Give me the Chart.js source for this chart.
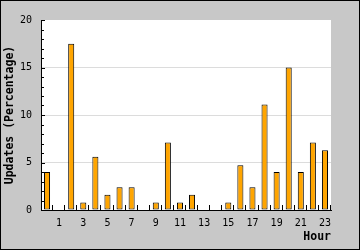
<!DOCTYPE html>
<html>
<head>
<meta charset="utf-8">
<script src="https://cdn.jsdelivr.net/npm/chart.js@4"></script>
<style>
  body { margin: 0; background: #c8c8c8; }
  canvas { display: block; }
</style>
</head>
<body>
<canvas id="myChart" width="360" height="250"></canvas>
<script>
// hours of the day and share of updates in each
const hours = ['0','1','2','3','4','5','6','7','8','9','10','11','12','13','14','15','16','17','18','19','20','21','22','23'];
const updates = [4, 0, 17.5, 0.8, 5.6, 1.6, 2.4, 2.4, 0, 0.8, 7.1, 0.8, 1.6, 0, 0, 0.8, 4.7, 2.4, 11.1, 4, 15, 4, 7.1, 6.3];
const yTicks = [0, 5, 10, 15, 20];

const mono = 'DejaVu Sans Mono';

// gray frame, white plot area, little tick marks like the original
const frame = {
  id: 'frame',
  beforeDraw(chart) {
    let ctx = chart.ctx;
    let a = chart.chartArea;
    ctx.save();
    ctx.fillStyle = '#c8c8c8';
    ctx.fillRect(0, 0, chart.width, chart.height);
    ctx.fillStyle = '#ffffff';
    ctx.fillRect(a.left, a.top, a.right - a.left, a.bottom - a.top);
    ctx.strokeStyle = '#000';
    ctx.lineWidth = 1;
    ctx.strokeRect(0.5, 0.5, chart.width - 1, chart.height - 1);
    ctx.restore();
  },
  afterDatasetsDraw(chart) {
    let ctx = chart.ctx;
    let x = chart.scales.x;
    let y = chart.scales.y;
    ctx.save();
    ctx.strokeStyle = '#000';
    ctx.lineWidth = 1;
    ctx.beginPath();
    // minor ticks on the y axis
    for (let v = 0; v <= 20; v++) {
      let py = Math.round(y.getPixelForValue(v)) + 0.5;
      let len = (v % 5 === 0) ? 4 : 3;
      ctx.moveTo(x.left, py);
      ctx.lineTo(x.left + len, py);
    }
    // ticks between the hours
    for (let i = 1; i <= hours.length; i++) {
      let px;
      if (i === hours.length) px = x.right;
      else px = (x.getPixelForValue(i - 1) + x.getPixelForValue(i)) / 2;
      px = Math.round(px) - 0.5;
      ctx.moveTo(px, y.bottom);
      ctx.lineTo(px, y.bottom - 5);
    }
    ctx.stroke();
    ctx.restore();
  }
};

const ctx = document.getElementById('myChart');

let chart = new Chart(ctx, {
  type: 'bar',
  data: {
    labels: hours,
    datasets: [{
      label: 'Updates',
      data: updates,
      backgroundColor: '#ffa500',
      borderColor: '#000000',
      borderWidth: 1,
      borderSkipped: false,
      barPercentage: 0.5,
      categoryPercentage: 1
    }]
  },
  options: {
    responsive: false,
    devicePixelRatio: 1,
    animation: false,
    layout: { padding: { left: 0, top: 20, right: 29, bottom: 0 } },
    plugins: {
      legend: { display: false },
      tooltip: { enabled: false }
    },
    scales: {
      x: {
        grid: { display: false, drawTicks: false },
        border: { display: true, color: '#000', width: 1 },
        ticks: {
          autoSkip: false,
          maxRotation: 0,
          padding: 7,
          color: '#000',
          font: { family: mono, size: 10 },
          callback: function(val, index) {
            return index % 2 === 1 ? hours[index] : '';
          }
        },
        title: {
          display: true,
          text: 'Hour',
          align: 'end',
          color: '#000',
          font: { family: mono, size: 11.5, weight: 'bold' },
          padding: { top: 0, bottom: 6 }
        },
        afterFit: function(scale) { scale.height = 40; }
      },
      y: {
        min: 0,
        max: 20,
        grid: {
          drawTicks: false,
          color: function(c) {
            let v = c.tick.value;
            return (v > 0 && v < 20) ? '#dcdcdc' : 'rgba(0,0,0,0)';
          }
        },
        border: { display: true, color: '#000', width: 1 },
        afterBuildTicks: function(scale) {
          scale.ticks = yTicks.map(v => ({ value: v }));
        },
        ticks: {
          padding: 9,
          color: '#000',
          font: { family: mono, size: 10 }
        },
        title: {
          display: true,
          text: 'Updates (Percentage)',
          color: '#000',
          font: { family: mono, size: 11.5, weight: 'bold' },
          padding: { top: 3, bottom: 0 }
        },
        afterFit: function(scale) { scale.width = 41; }
      }
    }
  },
  plugins: [frame]
});
</script>
</body>
</html>
